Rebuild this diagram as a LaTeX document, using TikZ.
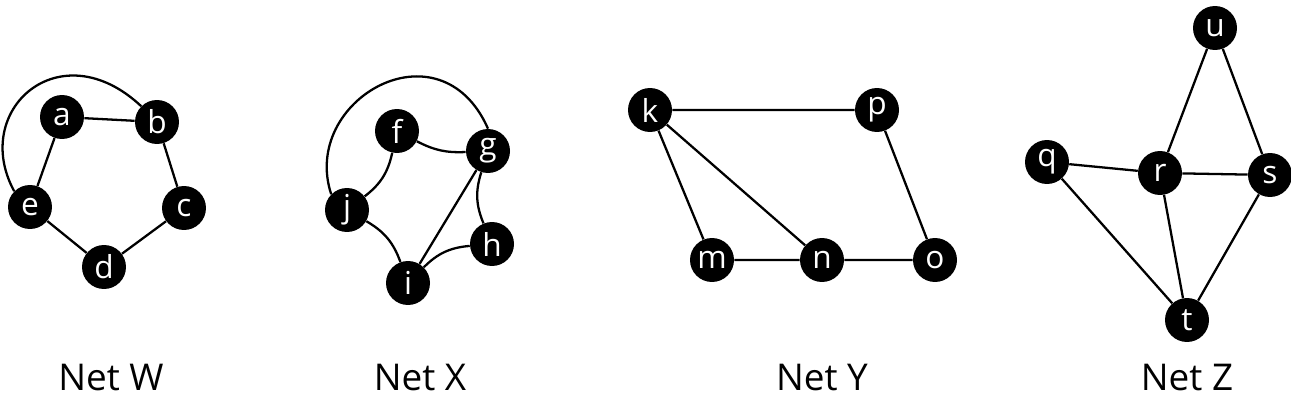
\documentclass[tikz,border=0pt]{standalone}
\usepackage{fontspec}
\setmainfont{Open Sans}
\begin{document}
\begin{tikzpicture}[x=0.02cm, y=-0.02cm,
    vertex/.style={circle, fill=black, text=white, inner sep=0pt, minimum size=0.88cm, font=\fontsize{18}{18}\selectfont},
    edge/.style={line width=1.3pt},
    caption/.style={font=\fontsize{21}{21}\selectfont}
]
\useasboundingbox (0,0) rectangle (1291,405);

% Net W
\node[vertex] (a) at (62,117) {a};
\node[vertex] (b) at (157,122) {b};
\node[vertex] (c) at (184,208) {c};
\node[vertex] (d) at (104,267) {d};
\node[vertex] (e) at (30,207) {e};
\draw[edge] (a) -- (b) -- (c) -- (d) -- (e) -- (a);
\draw[edge] (e.north west) .. controls (-30,110) and (60,30) .. (b.north west);
\node[caption] (capW) at (111,378) {Net W};

% Net X
\node[vertex] (f) at (397,131) {f};
\node[vertex] (g) at (488,151) {g};
\node[vertex] (h) at (492,244) {h};
\node[vertex] (i) at (408,283) {i};
\node[vertex] (j) at (347,210) {j};
\draw[edge] (g) -- (i);
\draw[edge] (j) to[bend right=20] (f);
\draw[edge] (f) to[bend right=15] (g);
\draw[edge] (g) to[bend right=20] (h);
\draw[edge] (h) to[bend right=20] (i);
\draw[edge] (i) to[bend right=20] (j);
\draw[edge] (j.north west) .. controls (300,100) and (440,20) .. (g.north);
\node[caption] (capX) at (420,378) {Net X};

% Net Y
\node[vertex] (k) at (650,110) {k};
\node[vertex] (p) at (877,110) {p};
\node[vertex] (m) at (712,260) {m};
\node[vertex] (n) at (822,260) {n};
\node[vertex] (o) at (935,260) {o};
\draw[edge] (k) -- (p) -- (o) -- (n) -- (m) -- (k) -- (n);
\node[caption] (capY) at (822,378) {Net Y};

% Net Z
\node[vertex] (u) at (1215,28) {u};
\node[vertex] (q) at (1047,162) {q};
\node[vertex] (r) at (1160,173) {r};
\node[vertex] (s) at (1270,175) {s};
\node[vertex] (t) at (1187,320) {t};
\draw[edge] (u) -- (r) -- (s) -- (u);
\draw[edge] (q) -- (r) -- (t) -- (q);
\draw[edge] (s) -- (t);
\node[caption] (capZ) at (1187,378) {Net Z};
\end{tikzpicture}
\end{document}
